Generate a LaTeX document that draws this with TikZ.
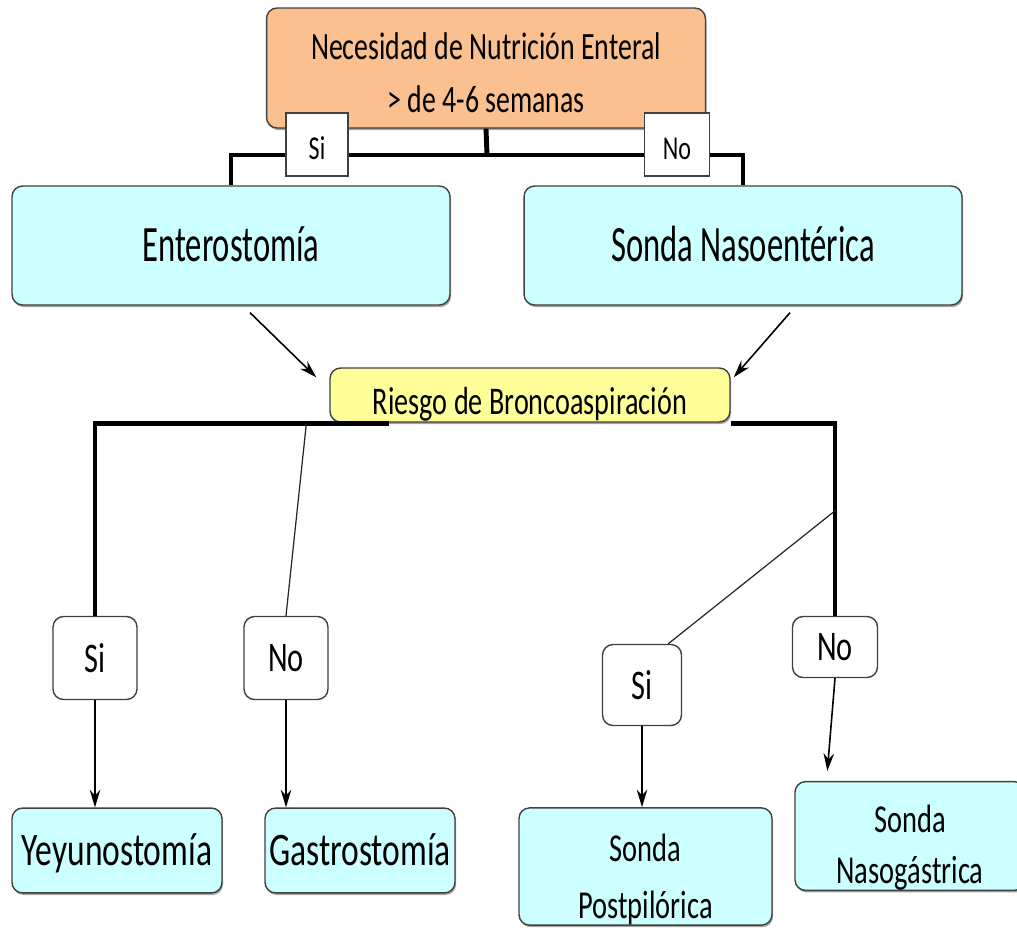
\documentclass[tikz,border=0pt]{standalone}
\usepackage{fontspec}
\setmainfont{Carlito}[FakeStretch=0.72]
\newfontfamily\estrecha{Carlito}[FakeStretch=0.64]
\usetikzlibrary{arrows.meta,calc,shadows}

\definecolor{naranja}{HTML}{FAC090}
\definecolor{cian}{HTML}{CCFFFF}
\definecolor{amarillo}{HTML}{FFFF99}
\definecolor{borde}{HTML}{404040}

\begin{document}
\begin{tikzpicture}[x=0.02cm, y=-0.02cm, >={Stealth[length=10pt,width=6pt]},
  caja/.style={draw=borde, line width=0.8pt, rounded corners=6pt, align=center,
    inner sep=0pt, drop shadow={shadow xshift=0.6pt, shadow yshift=-1.2pt, fill=black!70}},
  etiqueta/.style={draw=borde, line width=0.8pt, fill=white, inner sep=0pt,
    font=\fontsize{24}{28}\selectfont},
  rama/.style={line width=2.8pt},
  flecha/.style={->, line width=0.9pt},
  fina/.style={line width=0.7pt, black!85}]

  % margins of the page
  \useasboundingbox (0,0) rectangle (1017,927);
  \clip (0,0) rectangle (1017,927);

  % first question
  \node[caja, fill=naranja, minimum width=8.78cm, minimum height=2.4cm,
    font=\fontsize{22}{30}\selectfont] (need) at (486,68)
    {\rule{0pt}{21pt}Necesidad de Nutrición Enteral\\> de 4-6 semanas};

  % first answers
  \node[caja, fill=cian, minimum width=8.76cm, text height=43.2pt, text depth=24.5pt,
    font=\estrecha\fontsize{29}{33}\selectfont] (entero) at (231,245.5) {Enterostomía};
  \node[caja, fill=cian, minimum width=8.76cm, text height=43.2pt, text depth=24.5pt,
    font=\estrecha\fontsize{29}{33}\selectfont] (sne) at (743,245.5) {Sonda Nasoentérica};

  \coordinate (j1) at (487,155);
  \draw[rama] (entero.north) |- (j1) -| (sne.north);
  \draw[rama] (need.south) -- (j1);

  \node[etiqueta, minimum width=1.24cm, text height=26.7pt, text depth=9.1pt,
    font=\fontsize{19}{22}\selectfont] (siA) at (317,144.5) {Si};
  \node[etiqueta, minimum width=1.3cm, text height=26.7pt, text depth=9.1pt,
    font=\fontsize{19}{22}\selectfont] (noA) at (677,144.5) {No};

  % second question
  \node[caja, fill=amarillo, minimum width=8cm, text height=26.7pt, text depth=4pt,
    font=\fontsize{22.3}{26}\selectfont] (riesgo) at (530,395)
    {Riesgo de Broncoaspiración};

  \draw[flecha] ($(entero.south)+(19,7)$) -- ($(riesgo.north west)+(-13,10)$);
  \draw[flecha] ($(sne.south)+(47,7)$) -- ($(riesgo.north east)+(3,10)$);

  % answers for the second question
  \node[etiqueta, rounded corners=6pt, minimum width=1.68cm, minimum height=1.66cm] (siB) at (95,658) {Si};
  \node[etiqueta, rounded corners=6pt, minimum width=1.68cm, minimum height=1.66cm] (noB) at (286,658) {No};
  \node[etiqueta, rounded corners=6pt, minimum width=1.58cm, minimum height=1.62cm] (siC) at (642,685) {Si};
  \node[etiqueta, rounded corners=6pt, minimum width=1.7cm, minimum height=1.22cm] (noC) at (835,647) {No};

  \draw[rama] (siB.north) |- ($(riesgo.south west)+(60,1)$);
  \draw[rama] ($(riesgo.south east)+(0,1)$) -| (noC.north);
  \draw[fina] ($(riesgo.south west)+(-23,1)$) -- (noB.north);
  \coordinate (j2) at (836,510);
  \draw[fina] (j2) -- ($(siC.north east)+(-14,0)$);

  % final boxes
  \node[caja, fill=cian, minimum width=4.2cm, text height=32.4pt, text depth=15.9pt,
    font=\fontsize{26.5}{30}\selectfont] (yeyuno) at (117,850.5) {Yeyunostomía};
  \node[caja, fill=cian, minimum width=3.8cm, text height=32.4pt, text depth=15.9pt,
    font=\fontsize{26.5}{30}\selectfont] (gastro) at (360,850.5) {Gastrostomía};
  \node[caja, fill=cian, minimum width=5.06cm, minimum height=2.34cm,
    font=\fontsize{22.5}{32.4}\selectfont] (postpil) at (645.5,866.5)
    {\rule{0pt}{30.7pt}Sonda\\Postpilórica};
  \node[caja, fill=cian, minimum width=4.6cm, minimum height=2.16cm,
    font=\fontsize{22.5}{29}\selectfont] (nasogas) at (910,836)
    {\rule{0pt}{29pt}Sonda\\Nasogástrica};

  \draw[flecha] (siB.south) -- (siB.south |- yeyuno.north);
  \draw[flecha] (noB.south) -- (noB.south |- gastro.north);
  \draw[flecha] (siC.south) -- (siC.south |- postpil.north);
  \draw[flecha] (noC.south) -- ($(nasogas.north west)+(33,-10)$);
\end{tikzpicture}
\end{document}
